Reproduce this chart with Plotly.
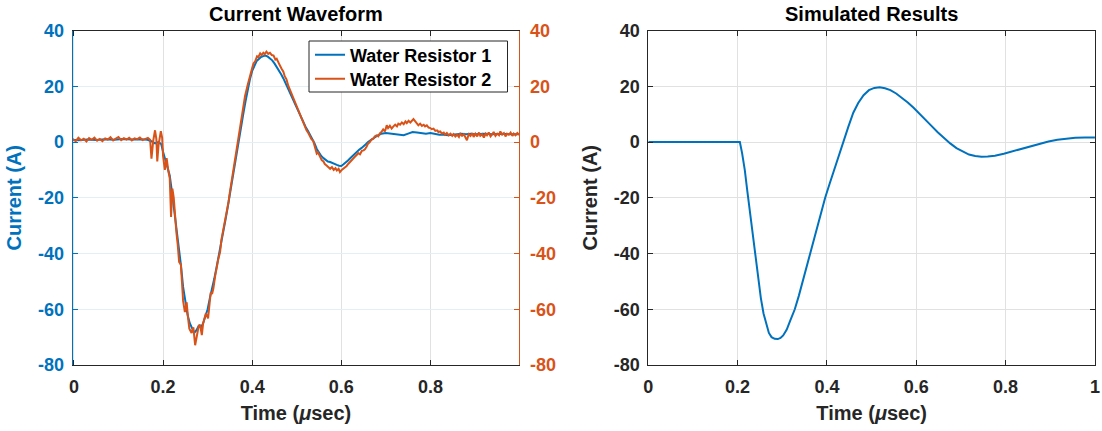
import plotly.graph_objects as go

# ---------------- data ----------------
t_r2 = [-0.003, 0.004, 0.010, 0.016, 0.022, 0.028, 0.034, 0.040, 0.046, 0.052, 0.058, 0.064, 0.070, 0.076,
        0.082, 0.088, 0.094, 0.100, 0.106, 0.112, 0.118, 0.124, 0.130, 0.136, 0.142, 0.148, 0.154, 0.160,
        0.166, 0.171, 0.174, 0.178, 0.182, 0.185, 0.187, 0.190, 0.195, 0.198, 0.200, 0.204, 0.208, 0.212,
        0.215, 0.218, 0.221, 0.224, 0.227, 0.230, 0.233, 0.236, 0.240, 0.243, 0.245, 0.249, 0.253, 0.256,
        0.259, 0.264, 0.268, 0.272, 0.277, 0.280, 0.283, 0.287, 0.290, 0.293, 0.296, 0.301, 0.304, 0.307,
        0.310, 0.313, 0.317, 0.320, 0.324, 0.328, 0.331, 0.335, 0.339, 0.343, 0.347, 0.350, 0.354, 0.358,
        0.361, 0.365, 0.369, 0.373, 0.378, 0.384, 0.390, 0.395, 0.400, 0.403, 0.407, 0.411, 0.414, 0.418,
        0.421, 0.425, 0.428, 0.432, 0.436, 0.440, 0.444, 0.448, 0.452, 0.455, 0.459, 0.462, 0.466, 0.470,
        0.473, 0.477, 0.481, 0.484, 0.488, 0.492, 0.496, 0.500, 0.504, 0.507, 0.511, 0.515, 0.518, 0.522,
        0.526, 0.530, 0.533, 0.537, 0.541, 0.545, 0.548, 0.552, 0.556, 0.560, 0.563, 0.567, 0.571, 0.575,
        0.579, 0.583, 0.587, 0.590, 0.594, 0.597, 0.601, 0.605, 0.608, 0.612, 0.616, 0.620, 0.623, 0.627,
        0.631, 0.635, 0.638, 0.642, 0.646, 0.650, 0.653, 0.657, 0.660, 0.664, 0.668, 0.672, 0.675, 0.679,
        0.683, 0.687, 0.690, 0.694, 0.698, 0.702, 0.705, 0.709, 0.713, 0.717, 0.721, 0.725, 0.728, 0.732,
        0.736, 0.740, 0.744, 0.747, 0.751, 0.755, 0.759, 0.762, 0.766, 0.770, 0.773, 0.777, 0.781, 0.785,
        0.788, 0.792, 0.796, 0.800, 0.803, 0.807, 0.811, 0.815, 0.818, 0.822, 0.826, 0.830, 0.833, 0.837,
        0.841, 0.845, 0.849, 0.852, 0.856, 0.860, 0.864, 0.867, 0.871, 0.875, 0.879, 0.882, 0.886, 0.890,
        0.894, 0.897, 0.901, 0.905, 0.909, 0.912, 0.916, 0.920, 0.924, 0.927, 0.931, 0.935, 0.939, 0.942,
        0.946, 0.950, 0.954, 0.957, 0.961, 0.965, 0.969, 0.972, 0.976, 0.980, 0.984, 0.987, 0.991, 0.995,
        0.999]
i_r2 = [1.0, 0.3, 1.5, 0.6, 1.2, 0.2, 1.4, 0.8, 1.6, 0.5, 1.1, 0.3, 1.3, 0.9,
        1.7, 0.6, 1.2, 1.8, 0.7, 1.4, 0.9, 1.5, 0.6, 1.3, 1.0, 1.6, 0.7, 1.2,
        1.5, 0.8, -6.0, 0.5, 4.2, 1.0, -7.0, -1.0, 3.9, 1.5, -5.0, -10.0, -5.8, -10.5,
        -13.0, -26.9, -16.7, -20.0, -27.0, -32.5, -37.0, -43.0, -44.0, -51.0, -57.0, -61.0, -57.5, -63.0,
        -67.0, -68.5, -66.5, -72.9, -68.5, -66.0, -65.5, -69.3, -65.0, -63.0, -61.5, -63.3, -58.0, -54.0,
        -54.5, -52.5, -48.0, -45.0, -42.0, -39.5, -35.0, -31.6, -28.5, -25.7, -21.5, -18.0, -14.0, -10.1,
        -6.0, -2.0, 2.0, 5.5, 10.0, 16.5, 20.5, 24.0, 26.5, 28.2, 29.0, 30.8, 30.5, 31.8,
        31.2, 32.0, 31.5, 32.4, 31.6, 32.0, 31.2, 31.0, 29.6, 29.9, 28.2, 27.5, 26.3, 25.2,
        23.6, 22.5, 20.2, 19.0, 17.2, 16.0, 14.6, 13.0, 11.2, 9.8, 8.4, 6.8, 5.6, 4.2,
        3.2, 1.8, 1.0, 0.4, -1.8, -4.2, -3.8, -5.4, -6.5, -7.0, -7.9, -8.4, -9.0, -9.6,
        -9.0, -10.0, -9.4, -10.2, -9.6, -10.8, -10.0, -9.6, -9.0, -8.6, -7.8, -7.0, -6.6, -5.6,
        -5.2, -4.6, -4.0, -4.4, -3.2, -3.0, -2.6, -1.6, -0.6, 0.0, 0.9, 1.2, 2.0, 2.4,
        2.0, 3.2, 3.6, 4.5, 3.8, 6.0, 5.0, 5.8, 4.8, 5.6, 6.2, 5.6, 6.6, 6.2,
        7.0, 6.4, 7.4, 6.8, 7.6, 7.0, 7.8, 8.2, 7.4, 6.4, 6.0, 6.6, 5.8, 6.2,
        5.6, 6.0, 5.2, 5.0, 4.6, 4.8, 4.0, 4.2, 3.6, 3.8, 3.0, 3.4, 2.6, 3.2,
        2.4, 3.0, 2.2, 2.8, 2.0, 2.6, 1.8, 3.0, 2.2, 2.8, 1.6, 0.6, 2.8, 2.2,
        3.2, 1.8, 3.0, 2.0, 3.4, 2.2, 2.8, 1.6, 3.0, 2.4, 3.4, 2.0, 2.8, 3.6,
        2.2, 3.0, 2.4, 3.8, 2.6, 3.2, 2.0, 3.0, 2.6, 3.4, 2.2, 3.0, 2.4, 3.2,
        2.6]

t_r1 = [-0.003, 0.01, 0.03, 0.05, 0.07, 0.09, 0.11, 0.13, 0.15, 0.165, 0.175, 0.182, 0.190, 0.196,
        0.200, 0.205, 0.210, 0.215, 0.220, 0.225, 0.230, 0.235, 0.240, 0.245, 0.250, 0.255, 0.260, 0.265,
        0.270, 0.275, 0.280, 0.285, 0.290, 0.295, 0.300, 0.305, 0.310, 0.315, 0.320, 0.325, 0.330, 0.335,
        0.340, 0.345, 0.350, 0.355, 0.360, 0.365, 0.370, 0.375, 0.380, 0.385, 0.390, 0.395, 0.400, 0.405,
        0.410, 0.415, 0.420, 0.425, 0.430, 0.435, 0.440, 0.445, 0.450, 0.455, 0.460, 0.465, 0.470, 0.475,
        0.480, 0.485, 0.490, 0.495, 0.500, 0.505, 0.510, 0.515, 0.520, 0.525, 0.530, 0.535, 0.540, 0.545,
        0.550, 0.555, 0.560, 0.565, 0.570, 0.575, 0.580, 0.585, 0.590, 0.595, 0.600, 0.605, 0.610, 0.615,
        0.620, 0.625, 0.630, 0.635, 0.640, 0.645, 0.650, 0.655, 0.660, 0.665, 0.670, 0.675, 0.680, 0.685,
        0.690, 0.700, 0.710, 0.720, 0.730, 0.740, 0.750, 0.760, 0.770, 0.780, 0.790, 0.800, 0.810, 0.820,
        0.830, 0.840, 0.850, 0.860, 0.870, 0.880, 0.890, 0.900, 0.920, 0.940, 0.960, 0.980, 0.999]
i_r1 = [0.8, 0.6, 0.9, 0.7, 1.0, 0.8, 1.1, 0.9, 1.0, 0.8, 0.2, -0.5, 0.0, -0.8,
        -3.5, -6.5, -8.5, -12.0, -18.0, -24.0, -31.0, -38.0, -44.0, -52.0, -58.0, -62.0, -65.0, -67.0,
        -68.5, -67.5, -66.0, -66.5, -65.0, -62.5, -60.0, -56.0, -53.0, -49.0, -45.0, -41.0, -36.5, -32.0,
        -28.0, -23.5, -18.5, -13.5, -8.5, -3.5, 1.5, 5.5, 10.0, 14.5, 19.0, 22.5, 25.5, 27.5,
        29.0, 29.8, 30.5, 30.8, 31.0, 30.6, 30.0, 29.3, 28.2, 27.0, 25.8, 24.3, 22.8, 21.0,
        19.2, 17.4, 15.6, 13.8, 12.0, 10.2, 8.5, 7.0, 5.4, 4.0, 2.6, 1.2, -0.5, -2.5,
        -4.0, -5.0, -5.8, -6.5, -7.0, -7.2, -7.6, -7.8, -8.2, -8.5, -8.6, -8.0, -7.4, -6.6,
        -5.8, -5.0, -4.2, -3.6, -2.8, -2.2, -1.6, -0.8, 0.0, 0.6, 1.2, 1.8, 2.2, 2.6,
        3.0, 3.2, 3.0, 2.8, 2.6, 2.4, 3.0, 3.6, 3.4, 3.2, 3.0, 3.2, 2.8, 2.6,
        2.6, 2.4, 2.6, 2.8, 3.0, 2.8, 3.0, 2.8, 3.0, 2.8, 3.0, 2.8, 2.8]

t_sim = [0.0, 0.205, 0.210, 0.216, 0.222, 0.228, 0.234, 0.240, 0.246, 0.252, 0.258, 0.264, 0.270,
         0.276, 0.283, 0.290, 0.296, 0.302, 0.310, 0.318, 0.328, 0.337, 0.345, 0.354, 0.362, 0.371,
         0.380, 0.388, 0.396, 0.406, 0.416, 0.426, 0.437, 0.448, 0.459, 0.470, 0.482, 0.494, 0.506,
         0.518, 0.530, 0.542, 0.555, 0.568, 0.581, 0.594, 0.607, 0.620, 0.634, 0.648, 0.662, 0.676,
         0.690, 0.704, 0.718, 0.732, 0.746, 0.760, 0.776, 0.796, 0.816, 0.836, 0.856, 0.876, 0.896,
         0.916, 0.936, 0.956, 0.978, 1.0]
i_sim = [0.0, 0.0, -4.0, -10.0, -18.0, -26.0, -34.0, -42.0, -49.5, -56.0, -61.5, -65.5, -68.5,
         -70.0, -70.6, -70.7, -70.3, -69.4, -67.3, -64.0, -60.0, -55.2, -50.3, -45.0, -40.0, -34.5,
         -29.0, -24.5, -20.0, -15.0, -10.0, -5.0, 0.0, 5.5, 10.5, 14.0, 16.8, 18.6, 19.4,
         19.6, 19.3, 18.6, 17.4, 15.9, 14.2, 12.3, 10.3, 8.1, 5.8, 3.5, 1.4, -0.5,
         -2.2, -3.5, -4.5, -5.0, -5.3, -5.2, -4.9, -4.2, -3.3, -2.4, -1.4, -0.5, 0.2,
         0.8, 1.2, 1.5, 1.6, 1.6]

y_ticks = [-80, -60, -40, -20, 0, 20, 40]
x_ticks_left = [0, 0.2, 0.4, 0.6, 0.8]
x_ticks_right = [0, 0.2, 0.4, 0.6, 0.8, 1]

# ---------------- styling ----------------
BLUE = "#0072BD"
ORANGE = "#D95319"
DARK = "#262626"
FONT = "Liberation Sans"
W, H = 1102, 431


def fx(p):                   # page pixel -> paper x
    return p / W


def fy(p):                   # page pixel -> paper y
    return (H - p) / H


xl0, xl1 = fx(72.6), fx(519.3)
xr0, xr1 = fx(648.3), fx(1095.0)
yb, yt = fy(365.0), fy(30.5)

y_text = [str(v) for v in y_ticks]

fig = go.Figure()
fig.add_trace(go.Scatter(x=t_r1, y=i_r1, mode="lines", name="Water Resistor 1", legend="legend",
                         line=dict(color=BLUE, width=2), xaxis="x", yaxis="y"))
fig.add_trace(go.Scatter(x=t_r2, y=i_r2, mode="lines", name="Water Resistor 2", legend="legend2",
                         line=dict(color=ORANGE, width=2), xaxis="x", yaxis="y2"))
fig.add_trace(go.Scatter(x=t_sim, y=i_sim, mode="lines", showlegend=False,
                         line=dict(color=BLUE, width=2), xaxis="x3", yaxis="y3"))

TS = 18
tickfont = dict(family=FONT, size=TS, color=DARK, weight="bold")
titlefont = dict(family=FONT, size=20, color=DARK, weight="bold")
legfont = dict(family=FONT, size=18, color="black", weight="bold")

fig.update_layout(
    width=W, height=H,
    margin=dict(l=0, r=0, t=0, b=0, autoexpand=False),
    paper_bgcolor="white", plot_bgcolor="white",
    font=dict(family=FONT, weight="bold"),
    xaxis=dict(domain=[xl0, xl1], range=[-0.003, 0.9995], tickvals=x_ticks_left,
               ticktext=[f"{v:g}" for v in x_ticks_left], automargin=False,
               showgrid=True, gridcolor="#e1e1e1", gridwidth=1, zeroline=False,
               showline=True, linecolor=DARK, linewidth=1, mirror="ticks",
               ticks="inside", ticklen=5, tickcolor=DARK, tickfont=tickfont, ticklabelstandoff=5,
               title=dict(text="Time (<i>μ</i>sec)", font=titlefont, standoff=10),
               anchor="y"),
    yaxis=dict(domain=[yb, yt], range=[-80, 40], tickvals=y_ticks, ticktext=y_text, automargin=False,
               showgrid=True, gridcolor="#e3eef7", gridwidth=1, zeroline=False,
               showline=True, linecolor=BLUE, linewidth=1,
               ticks="inside", ticklen=5, tickcolor=BLUE, ticklabelstandoff=4,
               tickfont=dict(family=FONT, size=TS, color=BLUE, weight="bold"),
               title=dict(text="Current (A)", font=dict(family=FONT, size=20, color=BLUE, weight="bold"),
                          standoff=10),
               anchor="x"),
    yaxis2=dict(domain=[yb, yt], range=[-80, 40], tickvals=y_ticks, ticktext=y_text, automargin=False,
                overlaying="y", side="right",
                showgrid=False, zeroline=False,
                showline=True, linecolor=ORANGE, linewidth=1,
                ticks="inside", ticklen=5, tickcolor=ORANGE, ticklabelstandoff=6,
                tickfont=dict(family=FONT, size=TS, color=ORANGE, weight="bold"),
                anchor="x"),
    xaxis3=dict(domain=[xr0, xr1], range=[0, 1.0002], tickvals=x_ticks_right,
                ticktext=[f"{v:g}" for v in x_ticks_right], automargin=False,
                showgrid=True, gridcolor="#e1e1e1", gridwidth=1, zeroline=False,
                showline=True, linecolor=DARK, linewidth=1, mirror="ticks",
                ticks="inside", ticklen=5, tickcolor=DARK, tickfont=tickfont, ticklabelstandoff=5,
                title=dict(text="Time (<i>μ</i>sec)", font=titlefont, standoff=10),
                anchor="y3"),
    yaxis3=dict(domain=[yb, yt], range=[-80, 40], tickvals=y_ticks, ticktext=y_text, automargin=False,
                showgrid=True, gridcolor="#e1e1e1", gridwidth=1, zeroline=False,
                showline=True, linecolor=DARK, linewidth=1, mirror="ticks",
                ticks="inside", ticklen=5, tickcolor=DARK, tickfont=tickfont, ticklabelstandoff=4,
                title=dict(text="Current (A)", font=titlefont, standoff=10),
                anchor="x3"),
    legend=dict(x=fx(310), y=fy(55), xanchor="left", yanchor="middle",
                bgcolor="rgba(0,0,0,0)", borderwidth=0, font=legfont),
    legend2=dict(x=fx(310), y=fy(79), xanchor="left", yanchor="middle",
                 bgcolor="rgba(0,0,0,0)", borderwidth=0, font=legfont),
    shapes=[dict(type="rect", xref="paper", yref="paper", x0=fx(309), x1=fx(507.5), y0=fy(92), y1=fy(41),
                 fillcolor="white", line=dict(color=DARK, width=1), layer="above")],
    annotations=[
        dict(text="Current Waveform", x=(xl0 + xl1) / 2, y=fy(14), xref="paper", yref="paper",
             showarrow=False, font=dict(family=FONT, size=20, color="black", weight="bold"),
             xanchor="center", yanchor="middle"),
        dict(text="Simulated Results", x=(xr0 + xr1) / 2, y=fy(14), xref="paper", yref="paper",
             showarrow=False, font=dict(family=FONT, size=20, color="black", weight="bold"),
             xanchor="center", yanchor="middle"),
    ],
)

fig.write_html("out.html", config={"displayModeBar": False},
               post_script="document.body.style.margin='0px';document.documentElement.style.margin='0px';")
